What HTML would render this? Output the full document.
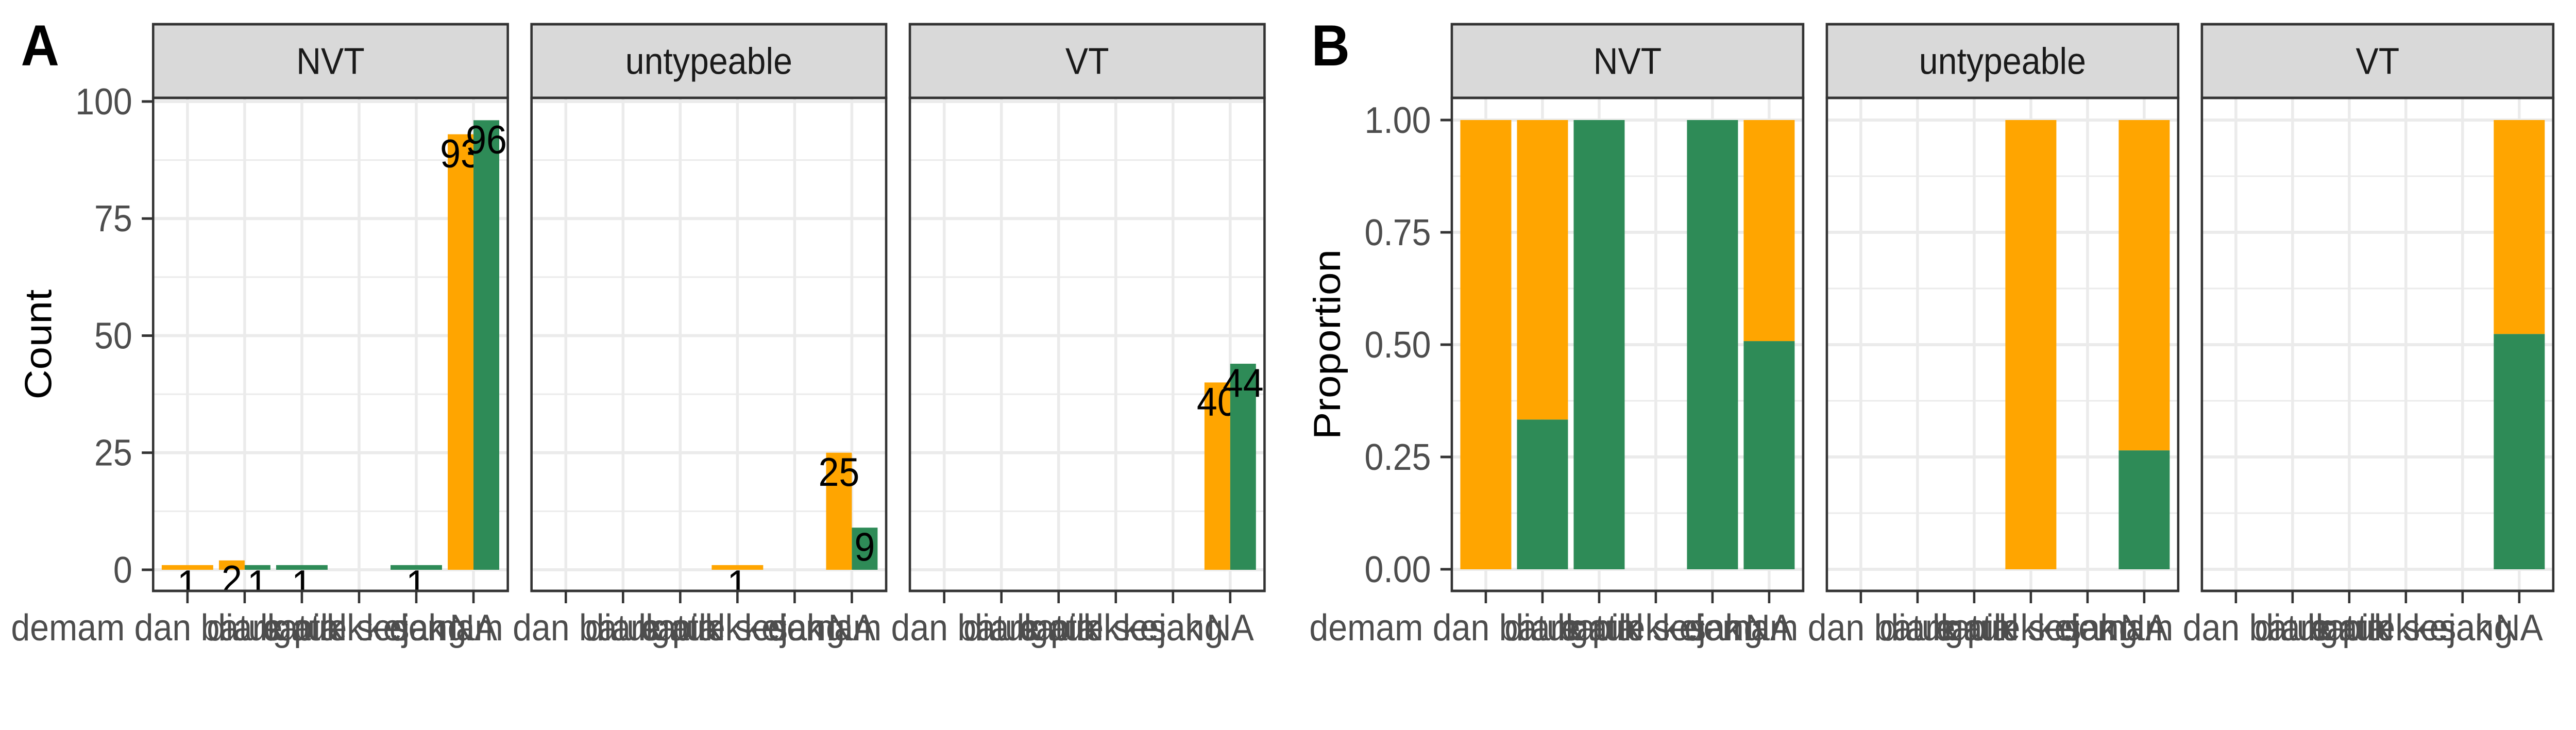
<!DOCTYPE html>
<html><head><meta charset="utf-8">
<style>
html,body{margin:0;padding:0;background:#fff;overflow:hidden;width:100vw;height:100vh;}
svg{display:block;font-family:"Liberation Sans",Arial,sans-serif;width:100vw;height:100vh;}
</style></head>
<body>
<svg id="chart" viewBox="0 0 5433 1417" preserveAspectRatio="none" xmlns="http://www.w3.org/2000/svg"></svg>
<script>
// ---- data ----
const facets = ["NVT", "untypeable", "VT"];
const categories = ["demam dan batuk pilek", "diare", "batuk", "gatal sesak", "kejang", "NA"];
const orangeNVT = [1, 2, 0, 0, 0, 93];
const greenNVT = [0, 1, 1, 0, 1, 96];
const orangeUnt = [0, 0, 0, 1, 0, 25];
const greenUnt = [0, 0, 0, 0, 0, 9];
const orangeVT = [0, 0, 0, 0, 0, 40];
const greenVT = [0, 0, 0, 0, 0, 44];
const countTicks = [0, 25, 50, 75, 100];
const propTicks = [0, 0.25, 0.5, 0.75, 1.0];
const propTickLabels = ["0.00", "0.25", "0.50", "0.75", "1.00"];

const orangeSeries = [orangeNVT, orangeUnt, orangeVT];
const greenSeries = [greenNVT, greenUnt, greenVT];
const ORANGE = "#FFA500", GREEN = "#2E8B57";

const svg = document.getElementById("chart");
const NS = "http://www.w3.org/2000/svg";
function mk(tag, attrs, parent) {
  const e = document.createElementNS(NS, tag);
  for (const k in attrs) e.setAttribute(k, attrs[k]);
  (parent || svg).appendChild(e);
  return e;
}
const rootClip = mk("clipPath", {id: "frameclip"});
mk("rect", {x: 0, y: 0, width: 5433, height: 1417}, rootClip);
const root = mk("g", {"clip-path": "url(#frameclip)"});

const PTOP = 190, PBOT = 1147, STOP = 47;

function drawPanel(cfg) {
  const g = mk("g", {}, root);
  
  
  const yScale = cfg.yScale;
  const L = mk("text", {x: cfg.letterX, y: 127, "font-size": 112, "font-weight": "bold", fill: "#000"}, g);
  L.textContent = cfg.letter;
  
  
  const yt = mk("text", {x: 0, y: 0, "font-size": 80, fill: "#000", "text-anchor": "middle",
    transform: `translate(${cfg.titleX},${(PTOP + PBOT) / 2}) rotate(-90)`}, g);
  yt.textContent = cfg.yTitle;
  
  
  const x0 = cfg.lefts[0];
  cfg.ticks.forEach((t, i) => {
    const y = yScale(t);
    const tl = mk("text", {x: x0 - 44, y: y, "font-size": 72, fill: "#4d4d4d", "text-anchor": "end", "dominant-baseline": "central"}, g);
    tl.textContent = cfg.tickLabels[i];
    
    
    mk("line", {x1: x0 - 24, x2: x0, y1: y, y2: y, stroke: "#333", "stroke-width": 5}, g);
  });
  facets.forEach((f, fi) => {
    const left = cfg.lefts[fi], w = cfg.width;
    const fg = mk("g", {}, g);
    
    
    const cx = i => left + w * (0.6 + i) / 6.2;
    const bw = w * 0.9 / 6.2;
    const cid = cfg.letter + "clip" + fi;
    const cp = mk("clipPath", {id: cid}, fg);
    mk("rect", {x: left, y: PTOP, width: w, height: PBOT - PTOP}, cp);
    mk("rect", {x: left, y: PTOP, width: w, height: PBOT - PTOP, fill: "#fff"}, fg);
    for (let i = 0; i < cfg.ticks.length - 1; i++) {
      const y = yScale((cfg.ticks[i] + cfg.ticks[i + 1]) / 2);
      mk("line", {x1: left, x2: left + w, y1: y, y2: y, stroke: "#ebebeb", "stroke-width": 3}, fg);
    }
    cfg.ticks.forEach(t => {
      const y = yScale(t);
      mk("line", {x1: left, x2: left + w, y1: y, y2: y, stroke: "#ebebeb", "stroke-width": 6}, fg);
    });
    categories.forEach((c, i) => {
      mk("line", {x1: cx(i), x2: cx(i), y1: PTOP, y2: PBOT, stroke: "#ebebeb", "stroke-width": 6}, fg);
    });
    const bg = mk("g", {"clip-path": `url(#${cid})`}, fg);
    categories.forEach((c, i) => {
      const o = orangeSeries[fi][i], gr = greenSeries[fi][i];
      if (cfg.mode === "count") {
        const present = [];
        if (o > 0) present.push([o, ORANGE, "orange"]);
        if (gr > 0) present.push([gr, GREEN, "green"]);
        const sw = bw / Math.max(present.length, 1);
        present.forEach((p, k) => {
          const bx = cx(i) - bw / 2 + k * sw;
          const top = yScale(p[0]);
          const r = mk("rect", {x: bx, y: top, width: sw, height: yScale(0) - top, fill: p[1]}, bg);
          
          
          const tx = mk("text", {x: bx + sw / 2, y: top + 37, "font-size": 78, fill: "#000", "text-anchor": "middle", "dominant-baseline": "central"}, bg);
          tx.textContent = p[0];
          
          
        });
      } else {
        const tot = o + gr;
        if (tot > 0) {
          const pg = gr / tot;
          const bx = cx(i) - bw / 2;
          if (gr > 0) {
            const r = mk("rect", {x: bx, y: yScale(pg), width: bw, height: yScale(0) - yScale(pg), fill: GREEN}, bg);
            
            
          }
          if (o > 0) {
            const r = mk("rect", {x: bx, y: yScale(1), width: bw, height: yScale(pg) - yScale(1), fill: ORANGE}, bg);
            
            
          }
        }
      }
    });
    mk("rect", {x: left, y: PTOP, width: w, height: PBOT - PTOP, fill: "none", stroke: "#333", "stroke-width": 5}, fg);
    const st = mk("rect", {x: left, y: STOP, width: w, height: PTOP - STOP, fill: "#d9d9d9", stroke: "#333", "stroke-width": 5}, fg);
    
    
    const stt = mk("text", {x: left + w / 2, y: (STOP + PTOP) / 2, "font-size": 72, fill: "#1a1a1a", "text-anchor": "middle", "dominant-baseline": "central"}, fg);
    stt.textContent = f;
    
    
    categories.forEach((c, i) => {
      mk("line", {x1: cx(i), x2: cx(i), y1: PBOT, y2: PBOT + 24, stroke: "#333", "stroke-width": 5}, fg);
      const xl = mk("text", {x: cx(i), y: 1243, "font-size": 72, fill: "#4d4d4d", "text-anchor": "middle"}, fg);
      xl.textContent = c;
      
      
    });
  });
}

drawPanel({
  name: "panel-a-counts", letter: "A", letterX: 44, titleX: 108, yTitle: "Count",
  lefts: [323, 1121, 1919], width: 748, mode: "count",
  ticks: countTicks, tickLabels: countTicks.map(String),
  yScale: v => 1106 - v * 9.09
});
drawPanel({
  name: "panel-b-proportions", letter: "B", letterX: 2766, titleX: 2826, yTitle: "Proportion",
  lefts: [3062, 3853, 4644], width: 741, mode: "prop",
  ticks: propTicks, tickLabels: propTickLabels,
  yScale: v => 1105 - v * 872
});
</script>
</body></html>
